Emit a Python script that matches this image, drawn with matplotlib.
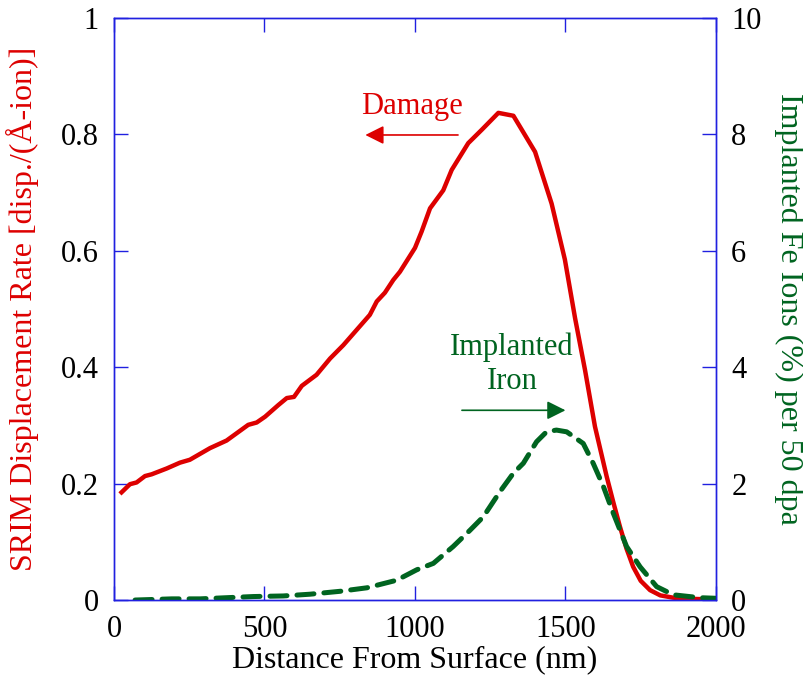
import matplotlib
matplotlib.use('Agg')
from matplotlib import pyplot as plt

plt.rcParams['font.family'] = ['Liberation Serif', 'DejaVu Serif']

# SRIM damage profile (left axis)
depth_dmg = [25, 53, 75, 103, 125, 175, 219, 252, 319, 374, 446, 474, 502, 546,
             574, 598, 624, 673, 718, 762, 806, 850, 873, 900, 928, 950, 1000,
             1022, 1050, 1094, 1122, 1177, 1222, 1277, 1327, 1399, 1454, 1498,
             1532, 1565, 1598, 1637, 1660, 1681, 1703, 1725, 1750, 1781, 1815,
             1858, 1920, 1991]
damage = [0.185, 0.199, 0.202, 0.213, 0.216, 0.226, 0.236, 0.241, 0.261, 0.274,
          0.301, 0.305, 0.315, 0.335, 0.347, 0.349, 0.368, 0.387, 0.415, 0.438,
          0.464, 0.490, 0.513, 0.528, 0.550, 0.564, 0.605, 0.633, 0.673, 0.704,
          0.739, 0.785, 0.808, 0.837, 0.832, 0.770, 0.681, 0.585, 0.484, 0.395,
          0.298, 0.212, 0.166, 0.126, 0.088, 0.057, 0.033, 0.017, 0.008, 0.004,
          0.002, 0.001]

# implanted Fe profile (right axis)
depth_fe = [70, 192, 286, 374, 463, 562, 651, 751, 840, 939, 1006, 1061, 1127,
            1183, 1227, 1282, 1327, 1360, 1404, 1437, 1470, 1504, 1559, 1592,
            1626, 1659, 1703, 1748, 1803, 1858, 1947, 2000]
fe = [0.0, 0.02, 0.02, 0.04, 0.06, 0.07, 0.10, 0.15, 0.21, 0.34, 0.52, 0.63,
      0.92, 1.20, 1.43, 1.86, 2.18, 2.35, 2.72, 2.89, 2.92, 2.89, 2.69, 2.35,
      1.95, 1.49, 0.92, 0.57, 0.23, 0.09, 0.04, 0.03]

red = '#dd0000'
green = '#006420'
blue = '#2020e0'

fig = plt.figure(figsize=(8.04, 6.79), dpi=100)
ax = fig.add_axes([0.1418, 0.1163, 0.7487, 0.8572])
ax2 = ax.twinx()

ax.plot(depth_dmg, damage, color=red, lw=3.2, solid_joinstyle='round')
line, = ax2.plot(depth_fe, fe, color=green, lw=3.6)
line.set_dashes([3.4, 2.0])
line.set_dash_capstyle('round')

ax.set_xlim(0, 2000)
ax.set_ylim(0, 1)
ax2.set_ylim(0, 10)
ax.set_xticks([0, 500, 1000, 1500, 2000])
ax.set_yticks([0, 0.2, 0.4, 0.6, 0.8, 1])
ax.set_yticklabels(['0', '0.2', '0.4', '0.6', '0.8', '1'])
ax2.set_yticks([0, 2, 4, 6, 8, 10])

for a in (ax, ax2):
    for s in a.spines.values():
        s.set_color(blue)
        s.set_linewidth(1.0)
    a.tick_params(direction='in', length=10, width=1, color=blue,
                  labelsize=22, labelcolor='black', pad=11)
ax.tick_params(top=True, axis='x')

ax.set_xlabel('Distance From Surface (nm)', fontsize=23, labelpad=1)
ax.set_ylabel('SRIM Displacement Rate [disp./(Å-ion)]', fontsize=23,
              color=red, labelpad=16)
ax2.set_ylabel('Implanted Fe Ions (%) per 50 dpa', fontsize=23, color=green,
               rotation=270, labelpad=30)

ax.annotate('', xy=(835, 0.799), xytext=(1143, 0.799),
            arrowprops=dict(arrowstyle='-|>', color=red, lw=1.2,
                            mutation_scale=28, shrinkA=0, shrinkB=0))
ax.text(990, 0.848, 'Damage', color=red, fontsize=22, ha='center', va='center')

ax2.annotate('', xy=(1500, 3.26), xytext=(1156, 3.26),
             arrowprops=dict(arrowstyle='-|>', color=green, lw=1.2,
                             mutation_scale=28, shrinkA=0, shrinkB=0))
ax2.text(1322, 4.05, 'Implanted\nIron', color=green, fontsize=22,
         ha='center', va='center', linespacing=1.25)

fig.savefig('out.png', dpi=100)
